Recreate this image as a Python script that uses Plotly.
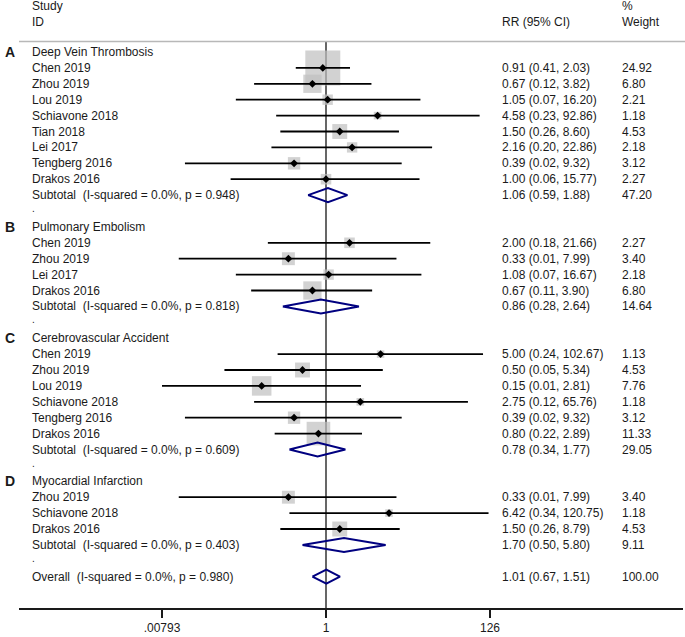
import math
import plotly.graph_objects as go

# ---------------- data ----------------
group_letters = ["A", "B", "C", "D"]
group_names = ["Deep Vein Thrombosis", "Pulmonary Embolism",
               "Cerebrovascular Accident", "Myocardial Infarction"]

dvt_studies = ["Chen 2019", "Zhou 2019", "Lou 2019", "Schiavone 2018", "Tian 2018",
               "Lei 2017", "Tengberg 2016", "Drakos 2016"]
dvt_rr = [0.91, 0.67, 1.05, 4.58, 1.50, 2.16, 0.39, 1.00]
dvt_lo = [0.41, 0.12, 0.07, 0.23, 0.26, 0.20, 0.0156, 0.06]
dvt_hi = [2.03, 3.82, 16.20, 92.86, 8.60, 22.86, 9.32, 15.77]
dvt_w = [24.92, 6.80, 2.21, 1.18, 4.53, 2.18, 3.12, 2.27]

pe_studies = ["Chen 2019", "Zhou 2019", "Lei 2017", "Drakos 2016"]
pe_rr = [2.00, 0.33, 1.08, 0.67]
pe_lo = [0.18, 0.013, 0.07, 0.11]
pe_hi = [21.66, 7.99, 16.67, 3.90]
pe_w = [2.27, 3.40, 2.18, 6.80]

cva_studies = ["Chen 2019", "Zhou 2019", "Lou 2019", "Schiavone 2018",
               "Tengberg 2016", "Drakos 2016"]
cva_rr = [5.00, 0.50, 0.15, 2.75, 0.39, 0.80]
cva_lo = [0.24, 0.05, 0.00793, 0.12, 0.0156, 0.22]
cva_hi = [102.67, 5.34, 2.81, 65.76, 9.32, 2.89]
cva_w = [1.13, 4.53, 7.76, 1.18, 3.12, 11.33]

mi_studies = ["Zhou 2019", "Schiavone 2018", "Drakos 2016"]
mi_rr = [0.33, 6.42, 1.50]
mi_lo = [0.013, 0.34, 0.26]
mi_hi = [7.99, 120.75, 8.79]
mi_w = [3.40, 1.18, 4.53]

sub_rr = [1.06, 0.86, 0.78, 1.70]
sub_lo = [0.59, 0.28, 0.34, 0.50]
sub_hi = [1.88, 2.64, 1.77, 5.80]
sub_w = [47.20, 14.64, 29.05, 9.11]
sub_i2 = ["0.0%", "0.0%", "0.0%", "0.0%"]
sub_p = ["0.948", "0.818", "0.609", "0.403"]

overall_rr, overall_lo, overall_hi, overall_w = 1.01, 0.67, 1.51, 100.00
overall_i2, overall_p = "0.0%", "0.980"

tick_values = [0.00793, 1, 126]
tick_labels = [".00793", "1", "126"]

# ---------------- layout constants ----------------
W, H = 685, 637
PX_DEC = 78.07          # pixels per decade
X0 = 326                # pixel of RR = 1
ROW0 = 52               # pixel of first row
ROWH = 15.9             # row spacing in pixels
AXIS_Y = 609            # pixel of axis line
FONT = "Liberation Sans, Arial, sans-serif"
TXT = "#1a1a1a"
NAVY = "#000080"
GREY = "#bfbfbf"

def L(v):
    return math.log10(v)

def px_to_paper(px):
    return px / W

def row_of_px(py):
    return (py - ROW0) / ROWH

groups = [
    (dvt_studies, dvt_rr, dvt_lo, dvt_hi, dvt_w),
    (pe_studies, pe_rr, pe_lo, pe_hi, pe_w),
    (cva_studies, cva_rr, cva_lo, cva_hi, cva_w),
    (mi_studies, mi_rr, mi_lo, mi_hi, mi_w),
]

annotations = []

def text(x_px, y, s, size=12, bold=False):
    annotations.append(dict(
        x=px_to_paper(x_px), xref="paper", y=y, yref="y",
        text=("<b>%s</b>" % s) if bold else s, showarrow=False,
        xanchor="left", yanchor="middle",
        font=dict(family=FONT, size=size, color=TXT)))

COL_NAME, COL_RR, COL_W = 30, 500, 620

# header
text(COL_NAME, row_of_px(6), "Study")
text(COL_NAME, row_of_px(22), "ID")
text(COL_RR, row_of_px(22), "RR (95% CI)")
text(COL_W, row_of_px(6), "%")
text(COL_W, row_of_px(22), "Weight")

sq_x, sq_y, sq_s = [], [], []
ci_x, ci_y = [], []
pt_x, pt_y = [], []
dia_x, dia_y = [], []
max_w = max(max(g[4]) for g in groups)
DIA_H = 7 / ROWH

def diamond(y, rr, lo, hi):
    dia_x.extend([L(lo), L(rr), L(hi), L(rr), L(lo), None])
    dia_y.extend([y, y - DIA_H, y, y + DIA_H, y, None])

k = 0
for gi, (studies, rr, lo, hi, w) in enumerate(groups):
    text(3, k, group_letters[gi], size=14, bold=True)
    text(COL_NAME, k, group_names[gi])
    k += 1
    for s, r, a, b, ww in zip(studies, rr, lo, hi, w):
        text(COL_NAME, k, s)
        text(COL_RR, k, "%.2f (%.2f, %.2f)" % (r, a, b))
        text(COL_W, k, "%.2f" % ww)
        sq_x.append(L(r)); sq_y.append(k); sq_s.append(35 * math.sqrt(ww / max_w))
        ci_x.extend([L(a), L(b), None]); ci_y.extend([k, k, None])
        pt_x.append(L(r)); pt_y.append(k)
        k += 1
    text(COL_NAME, k, "Subtotal\u00a0 (I-squared = %s, p = %s)" % (sub_i2[gi], sub_p[gi]))
    text(COL_RR, k, "%.2f (%.2f, %.2f)" % (sub_rr[gi], sub_lo[gi], sub_hi[gi]))
    text(COL_W, k, "%.2f" % sub_w[gi])
    diamond(k, sub_rr[gi], sub_lo[gi], sub_hi[gi])
    k += 1
    text(COL_NAME, k - 0.15, ".", size=10)
    k += 1

text(COL_NAME, k, "Overall\u00a0 (I-squared = %s, p = %s)" % (overall_i2, overall_p))
text(COL_RR, k, "%.2f (%.2f, %.2f)" % (overall_rr, overall_lo, overall_hi))
text(COL_W, k, "%.2f" % overall_w)
diamond(k, overall_rr, overall_lo, overall_hi)

fig = go.Figure()
fig.add_trace(go.Scatter(x=sq_x, y=sq_y, mode="markers", hoverinfo="skip",
                         marker=dict(symbol="square", size=sq_s, color=GREY,
                                     line=dict(width=0))))
fig.add_trace(go.Scatter(x=ci_x, y=ci_y, mode="lines", hoverinfo="skip",
                         line=dict(color="black", width=1.8)))
fig.add_trace(go.Scatter(x=pt_x, y=pt_y, mode="markers", hoverinfo="skip",
                         marker=dict(symbol="diamond", size=6, color="black")))
fig.add_trace(go.Scatter(x=dia_x, y=dia_y, mode="lines", hoverinfo="skip",
                         line=dict(color=NAVY, width=2)))

x_min = -X0 / PX_DEC
x_max = (W - X0) / PX_DEC
y_top = row_of_px(0)
y_bot = row_of_px(AXIS_Y)

shapes = [
    # header rule
    dict(type="line", xref="paper", yref="y", x0=px_to_paper(19), x1=1,
         y0=row_of_px(41.5), y1=row_of_px(41.5), line=dict(color="#b8b8b8", width=1.5)),
    # null line
    dict(type="line", xref="x", yref="y", x0=0, x1=0, y0=row_of_px(41.5), y1=y_bot,
         line=dict(color="black", width=1.2), layer="below"),
    # axis line
    dict(type="line", xref="paper", yref="paper", x0=px_to_paper(19), x1=px_to_paper(683),
         y0=0, y1=0, line=dict(color="#1a1a1a", width=2)),
]

fig.update_layout(
    width=W, height=H,
    margin=dict(l=0, r=0, t=0, b=H - AXIS_Y),
    paper_bgcolor="white", plot_bgcolor="white",
    showlegend=False,
    annotations=annotations, shapes=shapes,
    xaxis=dict(range=[x_min, x_max], showgrid=False, zeroline=False, showline=False,
               tickmode="array", tickvals=[L(v) for v in tick_values], ticktext=tick_labels,
               ticks="outside", ticklen=8, tickwidth=1.5, tickcolor="#1a1a1a",
               tickfont=dict(family=FONT, size=12, color=TXT), fixedrange=True),
    yaxis=dict(range=[y_bot, y_top], showgrid=False, zeroline=False, showline=False,
               showticklabels=False, ticks="", fixedrange=True),
)

fig.write_html("out.html",
               config={"displayModeBar": False, "staticPlot": True},
               post_script="document.body.style.margin='0';"
                           "document.documentElement.style.overflow='hidden';")
